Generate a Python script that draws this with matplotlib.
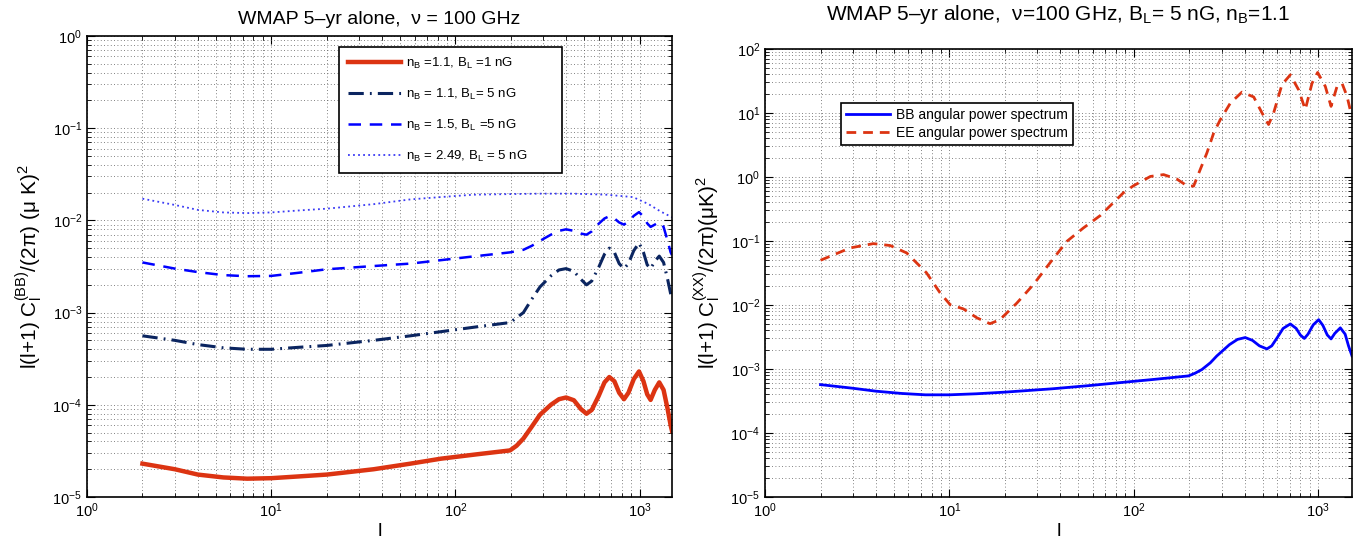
import matplotlib
matplotlib.use("Agg")
import matplotlib.pyplot as plt
from matplotlib.ticker import LogLocator, NullFormatter

plt.rcParams['font.family'] = ['Liberation Sans', 'DejaVu Sans']
plt.rcParams['mathtext.fontset'] = 'custom'
plt.rcParams['mathtext.rm'] = 'Liberation Sans'
plt.rcParams['mathtext.it'] = 'Liberation Sans:italic'
plt.rcParams['mathtext.bf'] = 'Liberation Sans:bold'

# ---------------- data: left panel ----------------
l_red = [2, 3, 4, 5.5, 7.4, 10, 14, 20, 36, 57, 83, 130, 198, 215, 234, 260, 288, 330, 365, 399,
         440, 480, 515, 550, 600, 645, 685, 730, 775, 823, 870, 930, 993, 1050, 1100, 1148, 1210,
         1279, 1350, 1420, 1475, 1500]
bb_nb11_bl1 = [2.3e-5, 2.0e-5, 1.75e-5, 1.63e-5, 1.58e-5, 1.6e-5, 1.67e-5, 1.75e-5, 2.0e-5, 2.3e-5,
               2.6e-5, 2.9e-5, 3.2e-5, 3.6e-5, 4.3e-5, 5.8e-5, 7.8e-5, 1.0e-4, 1.15e-4, 1.2e-4,
               1.12e-4, 9e-5, 8e-5, 8.8e-5, 1.25e-4, 1.75e-4, 2.0e-4, 1.8e-4, 1.35e-4, 1.15e-4,
               1.35e-4, 1.9e-4, 2.3e-4, 1.8e-4, 1.3e-4, 1.13e-4, 1.45e-4, 1.75e-4, 1.45e-4, 9e-5,
               6e-5, 5.2e-5]

l_navy = [2, 3, 4, 5.5, 7.4, 10, 14, 20, 36, 57, 83, 130, 198, 215, 234, 260, 288, 330, 365, 399,
          440, 480, 515, 550, 600, 645, 685, 730, 775, 823, 870, 930, 993, 1050, 1100, 1148, 1210,
          1279, 1350, 1420, 1475, 1500]
bb_nb11_bl5 = [5.6e-4, 5.0e-4, 4.5e-4, 4.15e-4, 4.0e-4, 4.0e-4, 4.2e-4, 4.4e-4, 5.0e-4, 5.6e-4,
               6.2e-4, 7.0e-4, 7.8e-4, 8.8e-4, 1.0e-3, 1.4e-3, 1.9e-3, 2.5e-3, 2.9e-3, 3.0e-3,
               2.8e-3, 2.3e-3, 2.0e-3, 2.2e-3, 3.1e-3, 4.3e-3, 5.0e-3, 4.5e-3, 3.4e-3, 3.0e-3,
               3.4e-3, 4.7e-3, 5.7e-3, 4.5e-3, 3.3e-3, 3.0e-3, 3.6e-3, 4.1e-3, 3.5e-3, 2.3e-3,
               1.6e-3, 1.4e-3]

l_dash = [2, 3, 4, 5.5, 7.4, 10, 14, 20, 36, 57, 83, 130, 198, 234, 260, 288, 330, 365, 399, 440,
          480, 515, 550, 600, 645, 685, 730, 775, 823, 870, 930, 993, 1050, 1100, 1148, 1210, 1279,
          1350, 1420, 1475, 1500]
bb_nb15_bl5 = [3.5e-3, 3.0e-3, 2.75e-3, 2.55e-3, 2.48e-3, 2.5e-3, 2.7e-3, 2.95e-3, 3.2e-3, 3.4e-3,
               3.7e-3, 4.1e-3, 4.5e-3, 4.8e-3, 5.3e-3, 6.0e-3, 7.0e-3, 7.7e-3, 8.0e-3, 7.7e-3,
               7.2e-3, 7.0e-3, 7.6e-3, 9.2e-3, 1.05e-2, 1.11e-2, 1.05e-2, 9.5e-3, 9.0e-3, 9.7e-3,
               1.12e-2, 1.23e-2, 1.1e-2, 9.3e-3, 8.5e-3, 9.0e-3, 9.6e-3, 8.5e-3, 6.0e-3, 4.5e-3,
               4.2e-3]

l_dot = [2, 3, 4, 5.5, 7.4, 10, 14, 20, 36, 57, 83, 125, 200, 288, 437, 661, 922, 1120, 1300, 1475,
         1500]
bb_nb249_bl5 = [1.72e-2, 1.47e-2, 1.3e-2, 1.22e-2, 1.2e-2, 1.22e-2, 1.28e-2, 1.34e-2, 1.5e-2,
                1.69e-2, 1.79e-2, 1.9e-2, 1.93e-2, 1.95e-2, 1.95e-2, 1.9e-2, 1.79e-2, 1.5e-2,
                1.25e-2, 1.1e-2, 1.08e-2]

left_labels = [r'n$_\mathrm{B}$ =1.1, B$_\mathrm{L}$ =1 nG',
               r'n$_\mathrm{B}$ = 1.1, B$_\mathrm{L}$= 5 nG',
               r'n$_\mathrm{B}$ = 1.5, B$_\mathrm{L}$ =5 nG',
               r'n$_\mathrm{B}$ = 2.49, B$_\mathrm{L}$ = 5 nG']

# ---------------- data: right panel ----------------
l_bb = [2, 3, 4, 5.5, 7.4, 10, 14, 20, 36, 57, 83, 130, 198, 215, 234, 260, 282, 330, 365, 402,
        440, 480, 527, 560, 600, 645, 706, 760, 800, 841, 880, 940, 1006, 1060, 1120, 1174, 1230,
        1318, 1400, 1460, 1525]
bb_right = [5.7e-4, 5.0e-4, 4.5e-4, 4.15e-4, 3.95e-4, 3.95e-4, 4.1e-4, 4.35e-4, 4.9e-4, 5.5e-4,
            6.1e-4, 6.9e-4, 7.8e-4, 8.6e-4, 9.8e-4, 1.25e-3, 1.6e-3, 2.4e-3, 2.9e-3, 3.1e-3,
            2.8e-3, 2.3e-3, 2.06e-3, 2.3e-3, 3.1e-3, 4.3e-3, 5.06e-3, 4.3e-3, 3.4e-3, 3.0e-3,
            3.5e-3, 4.9e-3, 5.9e-3, 4.8e-3, 3.4e-3, 2.95e-3, 3.6e-3, 4.4e-3, 3.5e-3, 2.3e-3, 1.6e-3]

l_ee = [2, 2.9, 3.87, 4.77, 5.87, 7.5, 8.9, 10.1, 11.9, 14.1, 16.6, 18.8, 23.2, 28.6, 35.2, 43.4,
        53.3, 65.8, 88, 99.6, 123, 145, 171, 194, 211, 229, 249, 271, 294, 334, 386, 447, 496, 538,
        573, 636, 706, 783, 851, 925, 993, 1093, 1174, 1265, 1347, 1432, 1506]
ee_right = [0.05, 0.078, 0.091, 0.085, 0.065, 0.032, 0.0155, 0.0101, 0.0087, 0.0063, 0.0051,
            0.0059, 0.0107, 0.021, 0.046, 0.099, 0.16, 0.25, 0.57, 0.73, 1.02, 1.09, 0.93, 0.73,
            0.72, 1.3, 2.37, 4.85, 7.8, 14.3, 21.2, 17.8, 10, 6.6, 10, 27.8, 39.5, 23, 11.3, 29,
            43, 26, 12.7, 26, 29, 18.4, 10]

right_labels = ['BB angular power spectrum', 'EE angular power spectrum']

RED = '#DC3412'
NAVY = '#0B2560'
BLUE = '#0000FF'
DOTBLUE = '#3A3AF5'

fig = plt.figure(figsize=(13.69, 5.5), dpi=100)
W, H = 1369.0, 550.0
axL = fig.add_axes([87 / W, 1 - 497 / H, (672 - 87) / W, (497 - 36) / H])
axR = fig.add_axes([765 / W, 1 - 497 / H, (1352 - 765) / W, (497 - 49) / H])


def style(ax):
    ax.set_xscale('log')
    ax.set_yscale('log')
    ax.grid(True, which='both', linestyle=(0, (1, 3)), color='0.35', linewidth=0.6)
    ax.tick_params(which='both', direction='in', top=True, right=True, labelsize=10.5)
    ax.tick_params(which='major', length=6, width=0.8)
    ax.tick_params(which='minor', length=3, width=0.6)
    ax.xaxis.set_major_locator(LogLocator(base=10, numticks=20))
    ax.xaxis.set_minor_locator(LogLocator(base=10, subs=range(2, 10), numticks=20))
    ax.yaxis.set_major_locator(LogLocator(base=10, numticks=20))
    ax.yaxis.set_minor_locator(LogLocator(base=10, subs=range(2, 10), numticks=20))
    ax.xaxis.set_minor_formatter(NullFormatter())
    ax.yaxis.set_minor_formatter(NullFormatter())
    for s in ax.spines.values():
        s.set_linewidth(1.2)
    ax.set_axisbelow(True)


style(axL)
axL.plot(l_red, bb_nb11_bl1, color=RED, lw=3.2, label=left_labels[0])
axL.plot(l_navy, bb_nb11_bl5, color=NAVY, lw=2.2, linestyle=(0, (5, 2, 0.6, 2)), label=left_labels[1])
axL.plot(l_dash, bb_nb15_bl5, color=BLUE, lw=1.8, linestyle=(0, (5, 3.5)), label=left_labels[2])
axL.plot(l_dot, bb_nb249_bl5, color=DOTBLUE, lw=1.3, linestyle=(0, (1, 1.8)), label=left_labels[3])
axL.set_xlim(1, 1500)
axL.set_ylim(1e-5, 1)
axL.set_title('WMAP 5–yr alone,  ν = 100 GHz', fontsize=14, pad=9)
axL.set_xlabel('l', fontsize=14, labelpad=2)
axL.set_ylabel(r'l(l+1) C$_\mathrm{l}^\mathrm{(BB)}$/(2π) (μ K)$^2$', fontsize=15, labelpad=5)
legL = axL.legend(loc='upper left', bbox_to_anchor=(0.419, 0.991, 0.405, 0.0), mode='expand',
                  fontsize=9.5, handlelength=4.0, labelspacing=1.2, borderpad=0.7,
                  handletextpad=0.4, fancybox=False, framealpha=1, edgecolor='k')
legL.get_frame().set_linewidth(1.2)

style(axR)
axR.plot(l_bb, bb_right, color=BLUE, lw=2.0, label=right_labels[0])
axR.plot(l_ee, ee_right, color=RED, lw=2.0, linestyle=(0, (3.5, 2.5)), label=right_labels[1])
axR.set_xlim(1, 1525)
axR.set_ylim(1e-5, 1e2)
axR.set_title(r'WMAP 5–yr alone,  ν=100 GHz, B$_\mathrm{L}$= 5 nG, n$_\mathrm{B}$=1.1',
              fontsize=15, pad=21)
axR.set_xlabel('l', fontsize=14, labelpad=2)
axR.set_ylabel(r'l(l+1) C$_\mathrm{l}^\mathrm{(XX)}$/(2π)(μK)$^2$', fontsize=15, labelpad=5)
legR = axR.legend(loc='upper left', bbox_to_anchor=(0.1175, 0.895), fontsize=10,
                  handlelength=3.2, labelspacing=0.3, borderpad=0.35, handletextpad=0.4,
                  fancybox=False, framealpha=1, edgecolor='k')
legR.get_frame().set_linewidth(1.2)

fig.savefig('out.png', dpi=100)
